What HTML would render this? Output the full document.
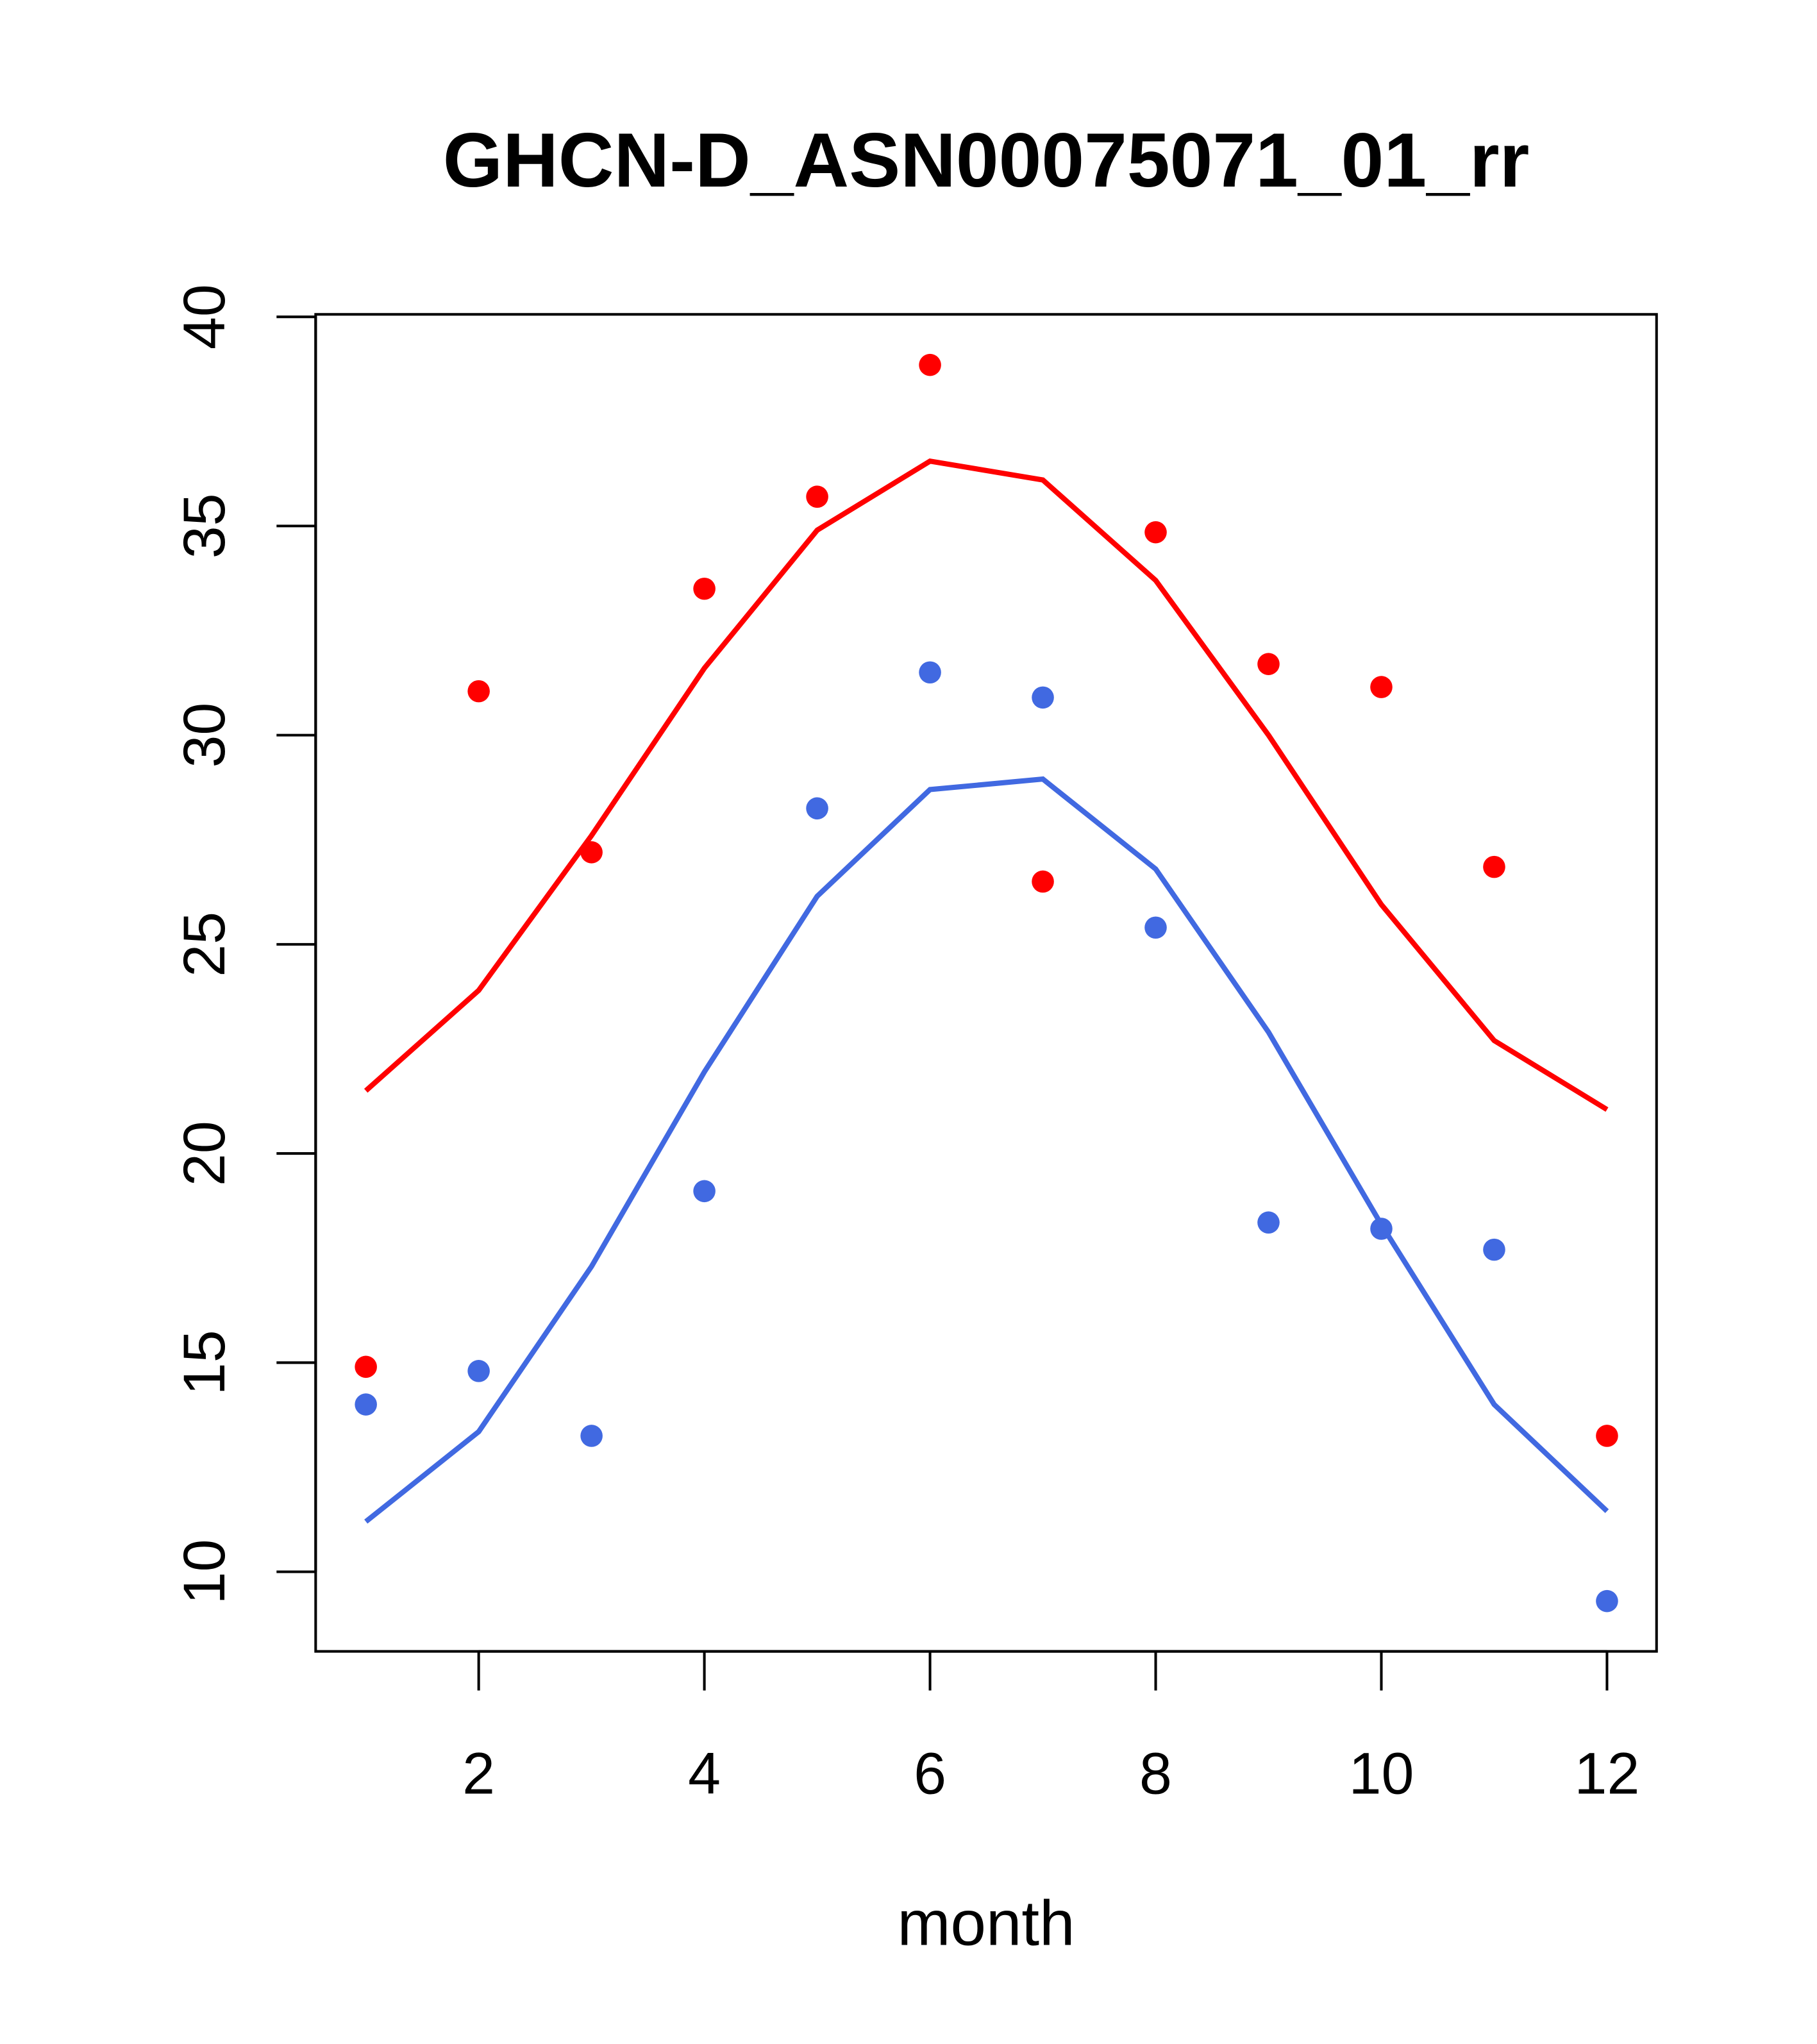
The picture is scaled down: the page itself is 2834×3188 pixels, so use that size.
<!DOCTYPE html>
<html><head><meta charset="utf-8"><style>
html,body{margin:0;padding:0;background:#fff;}
svg{display:block;}
text{font-family:"Liberation Sans",Arial,sans-serif;fill:#000;}
</style></head><body>
<svg id="chart" width="2834" height="3188" viewBox="0 0 1393 1567" preserveAspectRatio="none" xmlns="http://www.w3.org/2000/svg">
<text x="756" y="143" font-size="59" font-weight="bold" text-anchor="middle">GHCN-D_ASN00075071_01_rr</text>
<rect x="242" y="241" width="1028" height="1025" fill="none" stroke="#000" stroke-width="2"/>
<text x="756" y="1491" font-size="49" text-anchor="middle">month</text>
<g id="axes"></g>
<g id="marks"></g>
</svg>
<script>
const months=[1,2,3,4,5,6,7,8,9,10,11,12];
const redPoints=[14.9,31.05,27.2,33.5,35.7,38.85,26.5,34.85,31.7,31.15,26.85,13.25];
const redLine=[21.5,23.9,27.6,31.6,34.9,36.55,36.1,33.7,30.0,25.95,22.7,21.05];
const bluePoints=[14.0,14.8,13.25,19.1,28.25,31.5,30.9,25.4,18.35,18.2,17.7,9.3];
const blueLine=[11.2,13.35,17.3,21.95,26.15,28.7,28.95,26.8,22.9,18.3,14.0,11.45];
const xTicks=[2,4,6,8,10,12];
const yTicks=[10,15,20,25,30,35,40];

const NS="http://www.w3.org/2000/svg";
function xs(m){return 280.5+(m-1)*86.5;}
function ys(v){return 1205-(v-10)*32.07;}
function mk(tag,attrs,parent){const e=document.createElementNS(NS,tag);for(const k in attrs)e.setAttribute(k,attrs[k]);parent.appendChild(e);return e;}
const axes=document.getElementById('axes');
const marks=document.getElementById('marks');

let l=mk('line',{x1:xs(2),x2:xs(12),y1:1266,y2:1266,stroke:'#000','stroke-width':2},axes);


xTicks.forEach(t=>{
  const tk=mk('line',{x1:xs(t),x2:xs(t),y1:1266,y2:1296,stroke:'#000','stroke-width':2},axes);
  
  
  const tx=mk('text',{x:xs(t),y:1375,'font-size':45,'text-anchor':'middle'},axes);
  tx.textContent=t;
  
  
});
l=mk('line',{x1:242,x2:242,y1:ys(10),y2:ys(40),stroke:'#000','stroke-width':2},axes);


yTicks.forEach(t=>{
  const tk=mk('line',{x1:212,x2:242,y1:ys(t),y2:ys(t),stroke:'#000','stroke-width':2},axes);
  
  
  const tx=mk('text',{x:0,y:0,'font-size':45,'text-anchor':'middle',transform:'translate(172,'+ys(t)+') rotate(-90)'},axes);
  tx.textContent=t;
  
  
});

function line(vals,color,name){
  const p=mk('polyline',{points:vals.map((v,i)=>xs(months[i])+','+ys(v)).join(' '),fill:'none',stroke:color,'stroke-width':4},marks);
  
  
}
function pts(vals,color,name){
  vals.forEach((v,i)=>{
    const c=mk('circle',{cx:xs(months[i]),cy:ys(v),r:8.5,fill:color},marks);
    
    
  });
}
line(redLine,'#ff0000','red-line');
line(blueLine,'#4169e1','blue-line');
pts(redPoints,'#ff0000','red-point');
pts(bluePoints,'#4169e1','blue-point');
</script>
</body></html>
